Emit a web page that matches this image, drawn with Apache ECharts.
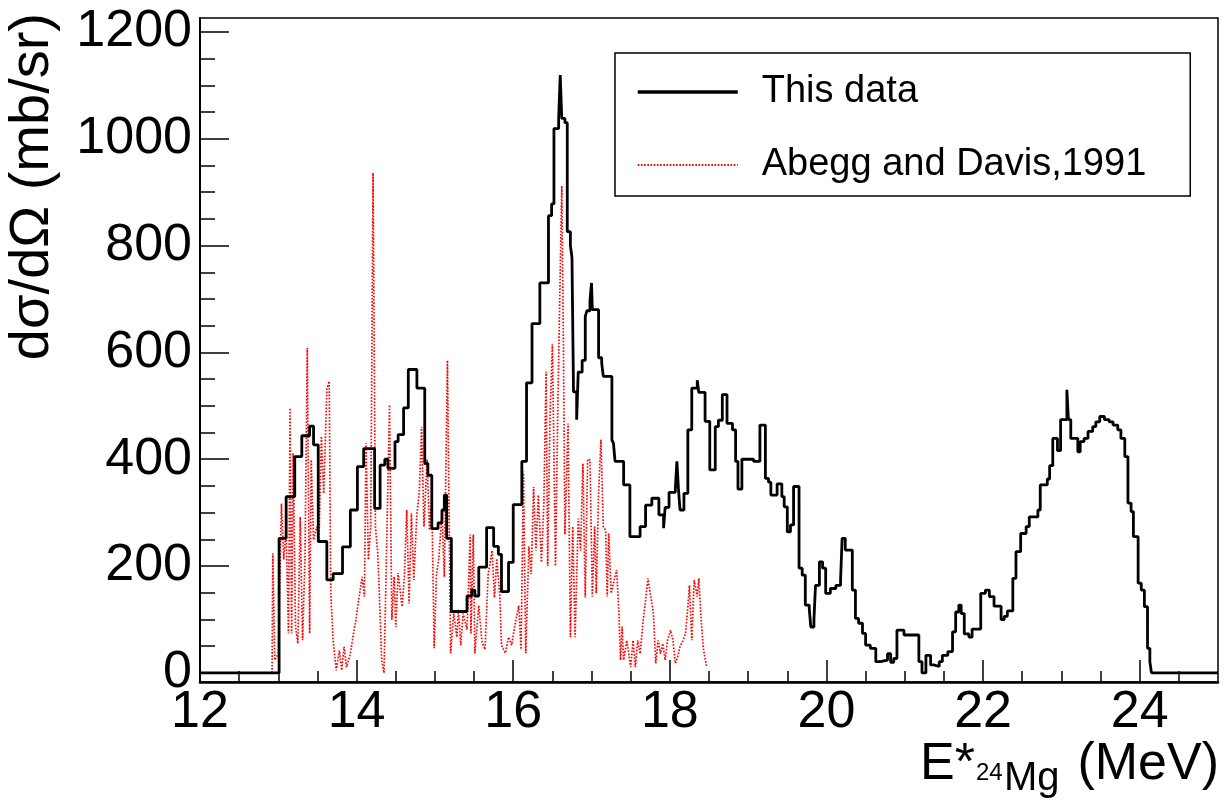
<!DOCTYPE html>
<html><head><meta charset="utf-8">
<script src="https://cdn.jsdelivr.net/npm/echarts@6/dist/echarts.min.js"></script>
<style>html,body{margin:0;padding:0;background:#fff}#c{width:1224px;height:804px}</style>
</head><body><div id="c"></div>
<script>
// ---- data ----
const seriesNames = ['This data', 'Abegg and Davis,1991'];

// "This data": histogram bin low edges and contents (mb/sr)
const blackX = [12.00, 13.01, 13.10, 13.21, 13.30, 13.40, 13.45, 13.51, 13.62, 13.70, 13.82, 13.92, 14.01, 14.09, 14.23, 14.30, 14.36, 14.40, 14.49, 14.53, 14.60, 14.66, 14.77, 14.87, 14.91, 14.96, 15.04, 15.09, 15.12, 15.15, 15.21, 15.41, 15.47, 15.51, 15.56, 15.66, 15.75, 15.81, 15.85, 15.94, 16.00, 16.11, 16.17, 16.24, 16.34, 16.45, 16.49, 16.52, 16.58, 16.60, 16.62, 16.66, 16.69, 16.73, 16.75, 16.77, 16.81, 16.83, 16.88, 16.92, 16.94, 16.98, 17.00, 17.01, 17.09, 17.13, 17.15, 17.26, 17.28, 17.30, 17.41, 17.49, 17.62, 17.69, 17.77, 17.86, 17.92, 17.94, 17.99, 18.07, 18.09, 18.11, 18.13, 18.18, 18.23, 18.28, 18.35, 18.37, 18.45, 18.51, 18.58, 18.62, 18.67, 18.73, 18.80, 18.84, 18.87, 18.92, 19.07, 19.15, 19.22, 19.26, 19.29, 19.37, 19.43, 19.46, 19.50, 19.54, 19.58, 19.65, 19.69, 19.73, 19.78, 19.80, 19.84, 19.86, 19.91, 19.95, 19.99, 20.05, 20.12, 20.18, 20.20, 20.24, 20.33, 20.37, 20.41, 20.46, 20.50, 20.56, 20.63, 20.69, 20.78, 20.82, 20.86, 20.90, 20.99, 21.18, 21.22, 21.27, 21.33, 21.37, 21.44, 21.48, 21.55, 21.61, 21.65, 21.69, 21.72, 21.76, 21.82, 21.86, 21.97, 22.03, 22.08, 22.14, 22.23, 22.27, 22.31, 22.38, 22.42, 22.48, 22.55, 22.59, 22.70, 22.73, 22.82, 22.85, 22.89, 22.95, 22.99, 23.07, 23.09, 23.12, 23.21, 23.24, 23.29, 23.34, 23.40, 23.44, 23.49, 23.55, 23.61, 23.66, 23.72, 23.76, 23.81, 23.85, 23.89, 23.92, 23.98, 24.02, 24.06, 24.10, 24.13, 24.15, 25.00];
const blackY = [0, 252, 330, 405, 444, 462, 427, 246, 174, 186, 236, 305, 386, 420, 308, 389, 400, 383, 433, 446, 496, 568, 533, 392, 370, 270, 281, 305, 333, 252, 115, 144, 155, 144, 198, 272, 237, 222, 152, 207, 315, 396, 543, 654, 730, 856, 878, 1019, 1038, 1119, 1038, 1030, 826, 800, 778, 526, 474, 563, 585, 667, 678, 697, 730, 680, 590, 580, 555, 436, 430, 396, 352, 255, 274, 314, 327, 296, 271, 310, 338, 344, 396, 344, 305, 336, 455, 533, 548, 525, 471, 380, 461, 473, 521, 467, 455, 396, 344, 400, 396, 464, 364, 357, 333, 354, 330, 311, 264, 277, 349, 196, 183, 127, 121, 86, 99, 164, 208, 196, 149, 158, 164, 173, 252, 230, 155, 102, 93, 74, 52, 46, 21, 24, 36, 20, 27, 80, 71, 21, 0, 33, 15, 12, 21, 33, 40, 77, 114, 127, 111, 73, 67, 82, 149, 155, 143, 125, 100, 106, 116, 177, 227, 261, 274, 292, 305, 352, 363, 388, 439, 416, 474, 530, 474, 439, 414, 433, 439, 452, 461, 470, 480, 474, 470, 464, 455, 439, 405, 318, 302, 255, 168, 155, 124, 46, 21, 0, 0];

// "Abegg and Davis,1991": points (MeV, mb/sr)
const redX = [12.92, 12.93, 12.955, 13.00, 13.04, 13.07, 13.10, 13.13, 13.15, 13.17, 13.19, 13.22, 13.25, 13.28, 13.31, 13.34, 13.37, 13.40, 13.42, 13.45, 13.49, 13.52, 13.55, 13.58, 13.62, 13.65, 13.67, 13.70, 13.74, 13.78, 13.81, 13.84, 13.87, 13.92, 13.96, 13.99, 14.02, 14.07, 14.10, 14.12, 14.15, 14.18, 14.21, 14.24, 14.27, 14.29, 14.32, 14.35, 14.38, 14.42, 14.45, 14.48, 14.50, 14.53, 14.58, 14.61, 14.64, 14.67, 14.70, 14.73, 14.77, 14.80, 14.83, 14.86, 14.90, 14.93, 14.96, 14.99, 15.02, 15.05, 15.09, 15.12, 15.16, 15.20, 15.24, 15.28, 15.30, 15.33, 15.36, 15.41, 15.45, 15.46, 15.49, 15.51, 15.56, 15.60, 15.64, 15.68, 15.73, 15.76, 15.79, 15.83, 15.85, 15.90, 15.94, 15.98, 16.02, 16.07, 16.10, 16.13, 16.16, 16.20, 16.23, 16.26, 16.29, 16.32, 16.36, 16.39, 16.42, 16.44, 16.47, 16.50, 16.54, 16.57, 16.62, 16.64, 16.66, 16.70, 16.73, 16.76, 16.79, 16.83, 16.86, 16.89, 16.92, 16.95, 16.98, 17.01, 17.04, 17.06, 17.09, 17.12, 17.15, 17.18, 17.20, 17.22, 17.25, 17.28, 17.32, 17.35, 17.37, 17.39, 17.41, 17.45, 17.50, 17.53, 17.56, 17.59, 17.62, 17.66, 17.69, 17.72, 17.75, 17.79, 17.82, 17.85, 17.88, 17.91, 17.94, 17.97, 18.01, 18.04, 18.07, 18.10, 18.13, 18.17, 18.20, 18.23, 18.25, 18.28, 18.31, 18.35, 18.37, 18.40, 18.43, 18.47];
const redY = [0, 224, 24, 36, 317, 212, 268, 74, 496, 74, 411, 86, 55, 292, 61, 212, 608, 74, 399, 249, 274, 249, 443, 336, 531, 546, 149, 61, 5, 42, 5, 49, 11, 36, 74, 99, 130, 180, 143, 430, 212, 274, 936, 274, 224, 149, 24, 0, 212, 502, 99, 180, 86, 187, 124, 180, 305, 130, 299, 174, 299, 336, 461, 274, 400, 267, 326, 46, 185, 214, 300, 180, 585, 37, 111, 67, 118, 52, 111, 81, 259, 74, 259, 37, 126, 59, 44, 185, 229, 141, 214, 141, 52, 37, 67, 52, 89, 126, 44, 377, 37, 237, 185, 348, 229, 333, 207, 311, 564, 200, 481, 615, 200, 504, 912, 630, 259, 467, 67, 274, 67, 289, 229, 392, 141, 400, 399, 143, 274, 149, 337, 437, 274, 267, 143, 261, 149, 168, 193, 112, 24, 87, 24, 61, 11, 61, 11, 61, 36, 99, 136, 177, 149, 112, 18, 61, 36, 55, 24, 61, 80, 61, 18, 30, 49, 61, 74, 124, 164, 61, 174, 143, 177, 99, 43, 11];

// axis ticks
const xMajorTicks = [12, 14, 16, 18, 20, 22, 24];
const xMinorTicks = [12.5, 13, 13.5, 14.5, 15, 15.5, 16.5, 17, 17.5, 18.5, 19, 19.5, 20.5, 21, 21.5, 22.5, 23, 23.5, 24.5];
const yMajorTicks = [0, 200, 400, 600, 800, 1000, 1200];
const yMinorTicks = [50, 100, 150, 250, 300, 350, 450, 500, 550, 650, 700, 750, 850, 900, 950, 1050, 1100, 1150];

// ---- chart ----
const FONT = 'Liberation Sans, Arial, Helvetica, sans-serif';
const chart = echarts.init(document.getElementById('c'), null, {renderer: 'canvas'});

const xBase = {
  type: 'value', min: 12, max: 25, position: 'bottom', gridIndex: 0,
  splitLine: {show: false}
};
const yBase = {
  type: 'value', min: -17, max: 1226, position: 'left', gridIndex: 0,
  splitLine: {show: false}
};
const plain = v => String(v);

chart.setOption({
  animation: false,
  backgroundColor: '#fff',
  grid: {
    left: 200, top: 18, right: 6, bottom: 122,
    show: true, borderColor: '#000', borderWidth: 1.5,
    containLabel: false, outerBoundsMode: 'none'
  },
  xAxis: [
    Object.assign({}, xBase, {
      axisLine: {show: true, onZero: false, lineStyle: {color: '#000', width: 2.5}},
      axisTick: {show: true, inside: true, length: 22, customValues: xMajorTicks, lineStyle: {color: '#000', width: 1.5}},
      axisLabel: {show: true, customValues: xMajorTicks, formatter: plain, margin: 5, fontSize: 52, fontFamily: FONT, color: '#000'}
    }),
    Object.assign({}, xBase, {
      offset: 0,
      axisLine: {show: false, onZero: false},
      axisTick: {show: true, inside: true, length: 11, customValues: xMinorTicks, lineStyle: {color: '#000', width: 1.5}},
      axisLabel: {show: false}
    })
  ],
  yAxis: [
    Object.assign({}, yBase, {
      axisLine: {show: true, onZero: false, lineStyle: {color: '#000', width: 2}},
      axisTick: {show: true, inside: true, length: 29, customValues: yMajorTicks, lineStyle: {color: '#000', width: 1.5}},
      axisLabel: {show: true, customValues: yMajorTicks, formatter: plain, margin: 8, fontSize: 52, fontFamily: FONT, color: '#000'}
    }),
    Object.assign({}, yBase, {
      offset: 0,
      axisLine: {show: false, onZero: false},
      axisTick: {show: true, inside: true, length: 15, customValues: yMinorTicks, lineStyle: {color: '#000', width: 1.5}},
      axisLabel: {show: false}
    })
  ],
  legend: {
    orient: 'vertical', left: 615, top: 53,
    padding: [19, 44, 11, 21],
    itemWidth: 100, itemHeight: 14, itemGap: 33,
    borderColor: '#000', borderWidth: 1.5, backgroundColor: '#fff',
    selectedMode: false,
    itemStyle: {opacity: 0},
    textStyle: {fontFamily: FONT, fontSize: 38, color: '#000', lineHeight: 40, padding: [0, 0, 0, 19]},
    data: [
      {name: seriesNames[0], itemStyle: {opacity: 0}, lineStyle: {width: 3.5}},
      {name: seriesNames[1], itemStyle: {opacity: 0}, lineStyle: {width: 1.8}}
    ]
  },
  series: [
    {
      name: seriesNames[1], type: 'line', xAxisIndex: 0, yAxisIndex: 0,
      symbol: 'none', showSymbol: false, z: 2,
      lineStyle: {color: '#ff0000', width: 1.7, type: [1.6, 1.6]},
      itemStyle: {color: '#ff0000'},
      data: redX.map((x, i) => [x, redY[i]])
    },
    {
      name: seriesNames[0], type: 'line', step: 'end', xAxisIndex: 0, yAxisIndex: 0,
      symbol: 'none', showSymbol: false, z: 3,
      lineStyle: {color: '#000', width: 2.8},
      itemStyle: {color: '#000'},
      data: blackX.map((x, i) => [x, blackY[i]])
    }
  ],
  graphic: [
    {type: 'text', x: 33, y: 13, rotation: Math.PI / 2,
      style: {text: 'dσ/dΩ (mb/sr)', font: '56px ' + FONT, fill: '#000', textAlign: 'right', textVerticalAlign: 'middle'}},
    {type: 'text', x: 920, y: 764.7,
      style: {text: 'E*', font: '52px ' + FONT, fill: '#000', textAlign: 'left', textVerticalAlign: 'middle'}},
    {type: 'text', x: 976, y: 773.4,
      style: {text: '24', font: '24px ' + FONT, fill: '#000', textAlign: 'left', textVerticalAlign: 'middle'}},
    {type: 'text', x: 1004, y: 779.4,
      style: {text: 'Mg', font: '40px ' + FONT, fill: '#000', textAlign: 'left', textVerticalAlign: 'middle'}},
    {type: 'text', x: 1219, y: 764.7,
      style: {text: '(MeV)', font: '52px ' + FONT, fill: '#000', textAlign: 'right', textVerticalAlign: 'middle'}}
  ]
});
</script>
</body></html>
